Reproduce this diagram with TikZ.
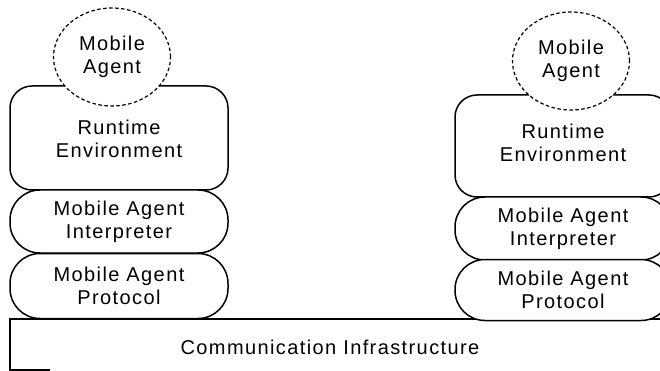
\documentclass[tikz,border=0pt]{standalone}
\usepackage{fontspec}
\setmainfont[LetterSpace=7]{Liberation Sans}
\usetikzlibrary{shapes.geometric}
\begin{document}
\begin{tikzpicture}[x=1pt,y=-1pt,
  every node/.style={font=\fontsize{20}{23}\selectfont, align=center, inner sep=0pt},
  layer/.style={draw, line width=1.5pt, fill=white, rounded corners=#1},
  runtime/.style={layer=22pt, minimum height=104pt},
  band/.style={layer=30pt, minimum height=63pt},
  agent/.style={draw, dashed, dash pattern=on 3.5pt off 2.5pt, line width=1.2pt, fill=white,
                ellipse, minimum width=117pt, minimum height=98pt}
]
\useasboundingbox (0,0) rectangle (660,371);
\clip (0,0) rectangle (660,371);

% communication infrastructure (open at the right and along the bottom)
\draw[line width=1.5pt] (50,370) -- (10,370) -- (10,319) -- (675,319);
\node (comm) at (330,347) {Communication Infrastructure};

% left host stack
\node[runtime, minimum width=218pt] (rtL) at (119,138) {};
\node at (119,139) {Runtime\\Environment};
\node[band, minimum width=218pt] (ipL) at (119,221.5) {Mobile Agent\\Interpreter};
\node[band, minimum width=218pt, minimum height=65pt] (prL) at (119,286) {Mobile Agent\\Protocol};
\node[agent] (maL) at (112,57) {Mobile\\Agent};

% right host stack
\node[runtime, minimum width=216pt, minimum height=102pt] (rtR) at (563,146) {};
\node at (563,143) {Runtime\\Environment};
\node[band, minimum width=216pt] (ipR) at (563,228.5) {Mobile Agent\\Interpreter};
\node[band, minimum width=216pt, minimum height=61pt] (prR) at (563,290) {Mobile Agent\\Protocol};
\node[agent] (maR) at (571,61) {Mobile\\Agent};
\end{tikzpicture}
\end{document}
